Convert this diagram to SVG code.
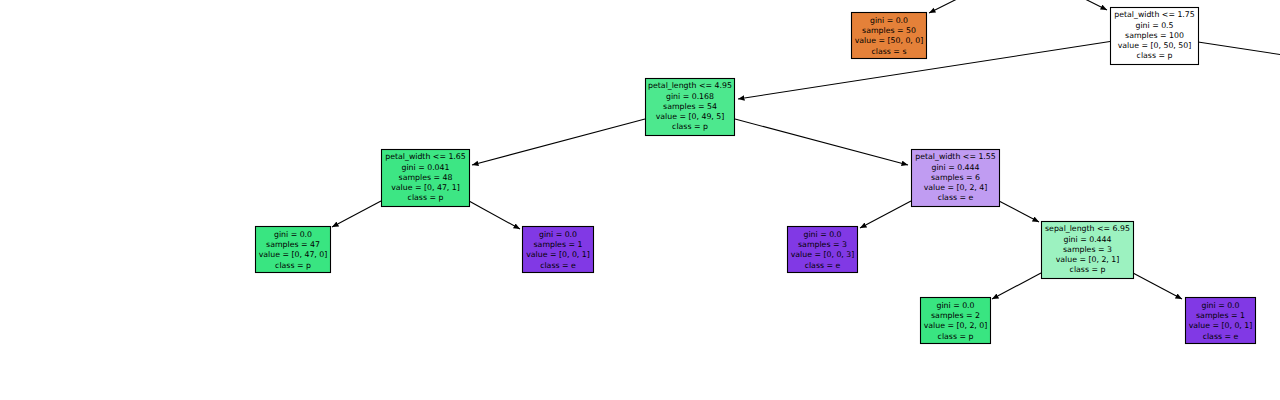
<svg xmlns="http://www.w3.org/2000/svg" width="1280" height="400" viewBox="0 0 1280 400">
<style>
.n rect{stroke:#000;stroke-width:1.1}
.n text{font-family:"DejaVu Sans",sans-serif;font-size:7.8px;text-anchor:middle;fill:#000}
.e line{stroke:#000;stroke-width:1.1;marker-end:url(#ah)}
</style>
<defs>
<marker id="ah" markerUnits="userSpaceOnUse" markerWidth="7" markerHeight="6" refX="6.5" refY="2.75" orient="auto">
<path d="M0,0 L6.5,2.75 L0,5.5 z" fill="#000"/>
</marker>
</defs>
<rect width="1280" height="400" fill="#fff"/>
<g id="connectors" class="e">
<line x1="965" y1="-5" x2="929" y2="13"/>
<line x1="1077" y1="-5" x2="1107" y2="10"/>
<line x1="1110" y1="41.5" x2="738" y2="99"/>
<line x1="1198" y1="42" x2="1290" y2="56" style="marker-end:none"/>
<line x1="645" y1="119" x2="472" y2="165"/>
<line x1="735" y1="119" x2="908" y2="165"/>
<line x1="381" y1="201" x2="332" y2="227"/>
<line x1="469" y1="201" x2="520" y2="229"/>
<line x1="911" y1="201" x2="860" y2="228"/>
<line x1="999" y1="201" x2="1039" y2="222"/>
<line x1="1041" y1="273" x2="992" y2="299"/>
<line x1="1133" y1="273" x2="1182" y2="299"/>
</g>
<g id="node-a" class="n">
<rect x="851.5" y="12.5" width="75" height="46" fill="#e58139"/>
<text x="889" y="22.8">gini = 0.0</text>
<text x="889" y="33.1">samples = 50</text>
<text x="889" y="43.4">value = [50, 0, 0]</text>
<text x="889" y="53.7">class = s</text>
</g>
<g id="node-b" class="n">
<rect x="1110.5" y="7.5" width="88" height="57" fill="#ffffff"/>
<text x="1154.5" y="17.2">petal_width &lt;= 1.75</text>
<text x="1154.5" y="27.5">gini = 0.5</text>
<text x="1154.5" y="37.8">samples = 100</text>
<text x="1154.5" y="48.1">value = [0, 50, 50]</text>
<text x="1154.5" y="58.4">class = p</text>
</g>
<g id="node-c" class="n">
<rect x="645.5" y="78.5" width="89" height="57" fill="#4de88e"/>
<text x="690" y="88.2">petal_length &lt;= 4.95</text>
<text x="690" y="98.5">gini = 0.168</text>
<text x="690" y="108.8">samples = 54</text>
<text x="690" y="119.1">value = [0, 49, 5]</text>
<text x="690" y="129.4">class = p</text>
</g>
<g id="node-d" class="n">
<rect x="381.5" y="149.5" width="88" height="57" fill="#3de684"/>
<text x="425.5" y="159.2">petal_width &lt;= 1.65</text>
<text x="425.5" y="169.5">gini = 0.041</text>
<text x="425.5" y="179.8">samples = 48</text>
<text x="425.5" y="190.1">value = [0, 47, 1]</text>
<text x="425.5" y="200.4">class = p</text>
</g>
<g id="node-e" class="n">
<rect x="911.5" y="149.5" width="88" height="57" fill="#c09cf2"/>
<text x="955.5" y="159.2">petal_width &lt;= 1.55</text>
<text x="955.5" y="169.5">gini = 0.444</text>
<text x="955.5" y="179.8">samples = 6</text>
<text x="955.5" y="190.1">value = [0, 2, 4]</text>
<text x="955.5" y="200.4">class = e</text>
</g>
<g id="node-f" class="n">
<rect x="255.5" y="226.5" width="75" height="46" fill="#39e581"/>
<text x="293" y="236.8">gini = 0.0</text>
<text x="293" y="247.1">samples = 47</text>
<text x="293" y="257.4">value = [0, 47, 0]</text>
<text x="293" y="267.7">class = p</text>
</g>
<g id="node-g" class="n">
<rect x="522.5" y="226.5" width="71" height="46" fill="#8139e5"/>
<text x="558" y="236.8">gini = 0.0</text>
<text x="558" y="247.1">samples = 1</text>
<text x="558" y="257.4">value = [0, 0, 1]</text>
<text x="558" y="267.7">class = e</text>
</g>
<g id="node-h" class="n">
<rect x="787.5" y="226.5" width="70" height="46" fill="#8139e5"/>
<text x="822.5" y="236.8">gini = 0.0</text>
<text x="822.5" y="247.1">samples = 3</text>
<text x="822.5" y="257.4">value = [0, 0, 3]</text>
<text x="822.5" y="267.7">class = e</text>
</g>
<g id="node-i" class="n">
<rect x="1041.5" y="221.5" width="92" height="57" fill="#9cf2c0"/>
<text x="1087.5" y="231.2">sepal_length &lt;= 6.95</text>
<text x="1087.5" y="241.5">gini = 0.444</text>
<text x="1087.5" y="251.8">samples = 3</text>
<text x="1087.5" y="262.1">value = [0, 2, 1]</text>
<text x="1087.5" y="272.4">class = p</text>
</g>
<g id="node-j" class="n">
<rect x="920.5" y="297.5" width="70" height="46" fill="#39e581"/>
<text x="955.5" y="307.8">gini = 0.0</text>
<text x="955.5" y="318.1">samples = 2</text>
<text x="955.5" y="328.4">value = [0, 2, 0]</text>
<text x="955.5" y="338.7">class = p</text>
</g>
<g id="node-k" class="n">
<rect x="1185.5" y="297.5" width="70" height="46" fill="#8139e5"/>
<text x="1220.5" y="307.8">gini = 0.0</text>
<text x="1220.5" y="318.1">samples = 1</text>
<text x="1220.5" y="328.4">value = [0, 0, 1]</text>
<text x="1220.5" y="338.7">class = e</text>
</g>
</svg>
